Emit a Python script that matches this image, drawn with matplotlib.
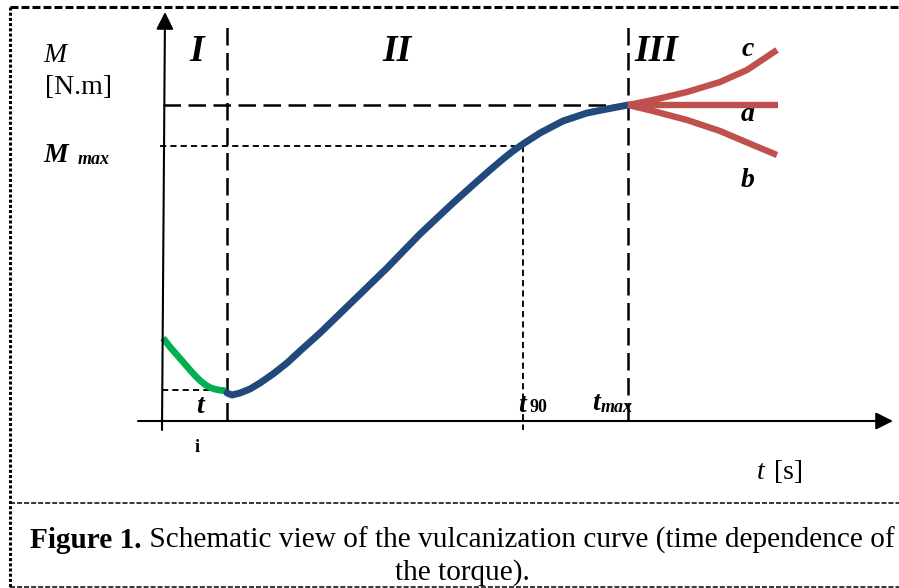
import matplotlib
matplotlib.use("Agg")
import matplotlib.pyplot as plt

# ---- data (time t and torque M in arbitrary schematic units) ----
green_t = [3, 10, 17, 24, 30, 35, 40, 45, 50, 55, 60, 66]
green_M = [82, 73, 65, 57, 50, 44.5, 39.5, 35.5, 32.5, 30.8, 29.8, 29.2]

blue_t = [67, 72, 80, 90, 100, 113, 127, 140, 160, 193, 227, 260, 293, 313,
          330, 343, 353, 363, 380, 403, 427, 447, 468]
blue_M = [27, 25, 27, 31, 37, 46, 57, 69, 87, 119, 152, 186, 217, 235,
          250, 261, 269, 276, 287, 299, 307, 311, 315]

red_a_t = [468, 618]
red_a_M = [315, 315]
red_c_t = [468, 493, 527, 560, 587, 617]
red_c_M = [315, 320, 328, 338, 350, 370]
red_b_t = [468, 493, 527, 560, 593, 617]
red_b_M = [315, 309, 300, 289, 275, 265]

t_i, t_90, t_max = 67, 363, 468
M_i, M_90, M_top = 30, 274, 315

GREEN = "#00B050"
BLUE = "#22497C"
RED = "#C0504D"
SERIF = "Liberation Serif"

fig = plt.figure(figsize=(8.99, 5.88), dpi=100)
fig.patch.set_facecolor("white")

# overlay in pixel coords for frame + caption
deco = fig.add_axes([0, 0, 1, 1])
deco.set_xlim(0, 899)
deco.set_ylim(588, 0)
deco.axis("off")

ax = fig.add_axes([0, 0, 1, 1])
ax.set_xlim(-160, 739)
ax.set_ylim(-168, 420)
ax.axis("off")
ax.patch.set_alpha(0)

# ---- frame ----
deco.plot([10, 899], [7, 7], color="k", lw=2.2, ls=(0, (2.6, 1.0)))
deco.plot([10, 10], [7, 588], color="k", lw=2.2, ls=(0, (1.0, 0.7)))
deco.plot([10, 899], [503, 503], color="k", lw=1.1, ls=(0, (3.3, 1.3)))
deco.plot([10, 899], [587, 587], color="k", lw=1.1, ls=(0, (3.3, 1.3)))

# ---- axes arrows ----
arrow_kw = dict(arrowstyle="-|>", mutation_scale=26, lw=1.5, color="k",
                shrinkA=0, shrinkB=0)
ax.annotate("", xy=(5, 408), xytext=(2, -10), arrowprops=arrow_kw)
ax.annotate("", xy=(733, -1), xytext=(-22, -1), arrowprops=arrow_kw)

# ---- guide lines ----
long_ls = (0, (7, 3))
short_ls = (0, (3.3, 2.2))
ax.plot([t_i, t_i], [0, 398], color="k", lw=1.8, ls=long_ls)
ax.plot([t_max, t_max], [0, 398], color="k", lw=1.8, ls=long_ls)
ax.plot([3, t_max], [M_top, M_top], color="k", lw=1.8, ls=long_ls)
ax.plot([0, t_90], [M_90, M_90], color="k", lw=1.35, ls=short_ls)
ax.plot([t_90, t_90], [M_90, -10], color="k", lw=1.35, ls=short_ls)
ax.plot([2, t_i], [M_i, M_i], color="k", lw=1.35, ls=short_ls)

# ---- curves ----
ax.plot(green_t, green_M, color=GREEN, lw=4.8, solid_capstyle="butt", solid_joinstyle="round")
ax.plot(blue_t, blue_M, color=BLUE, lw=5.0, solid_capstyle="round", solid_joinstyle="round")
ax.plot(red_a_t, red_a_M, color=RED, lw=4.6, solid_capstyle="butt")
ax.plot(red_c_t, red_c_M, color=RED, lw=4.6, solid_capstyle="butt", solid_joinstyle="round")
ax.plot(red_b_t, red_b_M, color=RED, lw=4.6, solid_capstyle="butt", solid_joinstyle="round")

# ---- labels ----
def T(x, y, s, size=20, weight="normal", style="normal", ha="left", va="baseline"):
    ax.text(x, y, s, fontsize=size, fontweight=weight, fontstyle=style,
            family=SERIF, ha=ha, va=va)

T(-117, 358, "M", style="italic")
T(-115, 326, "[N.m]")
T(-117, 258, "M", weight="bold", style="italic")
T(-82, 256, "max", size=13, weight="bold", style="italic")

T(37, 359, "I", size=27, weight="bold", style="italic", ha="center")
T(237, 359, "II", size=27, weight="bold", style="italic", ha="center")
T(496, 359, "III", size=27, weight="bold", style="italic", ha="center")

T(588, 364, "c", weight="bold", style="italic", ha="center")
T(588, 299, "a", weight="bold", style="italic", ha="center")
T(588, 233, "b", weight="bold", style="italic", ha="center")

T(40, 7, "t", weight="bold", style="italic", ha="center")
T(37, -32, "i", size=13, weight="bold", ha="center")
T(358, 8, "t", weight="bold", style="italic")
T(369, 8, "90", size=13, weight="bold")
T(432, 10, "t", weight="bold", style="italic")
T(441, 8, "max", size=13, weight="bold", style="italic")
T(597, -59, "t", style="italic")
T(614, -59, "[s]")

# ---- caption ----
fig.canvas.draw()
r = fig.canvas.get_renderer()
cap1 = deco.text(30, 548, "Figure 1.", fontsize=20, fontweight="bold", family=SERIF,
                 ha="left", va="baseline")
cap1b = deco.text(0, 548, " Schematic view of the vulcanization curve (time dependence of",
                  fontsize=20, family=SERIF, ha="left", va="baseline")
w1 = cap1.get_window_extent(r).width
w2 = cap1b.get_window_extent(r).width
scale = 865.0 / (w1 + w2)
fs = 20 * scale
cap1.set_fontsize(fs)
cap1b.set_fontsize(fs)
w1 = cap1.get_window_extent(r).width
cap1b.set_x(30 + w1)
deco.text(462, 580, "the torque).", fontsize=fs, family=SERIF, ha="center", va="baseline")

fig.savefig("out.png", dpi=100, facecolor="white")
